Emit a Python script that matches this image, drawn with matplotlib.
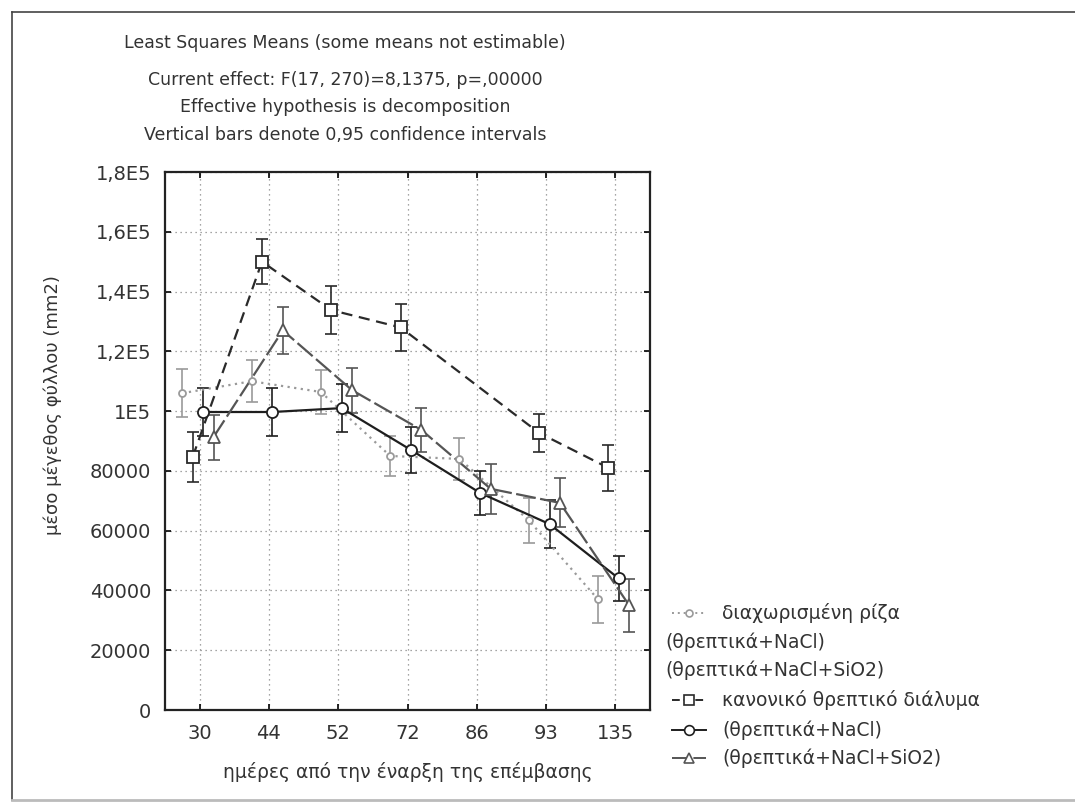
import numpy as np
import matplotlib
matplotlib.use('Agg')
import matplotlib.pyplot as plt
from matplotlib.lines import Line2D

plt.rcParams['font.family'] = ['DejaVu Sans']

# days since start of treatment (categorical x axis)
days = ['30', '44', '52', '72', '86', '93', '135']

# mean leaf size (mm2) and 0.95 CI half-widths
split_root = [106000, 110000, 106400, 85000, 84000, 63500, 37000]
split_root_err = [8000, 7000, 7500, 6700, 7000, 7500, 8000]

normal = [84700, 150000, 133800, 128000, np.nan, 92700, 81000]   # day 86 not estimable
normal_err = [8400, 7500, 8000, 7800, np.nan, 6500, 7800]

nacl = [99700, 99700, 101000, 87000, 72600, 62200, 44000]
nacl_err = [8000, 8000, 8000, 7800, 7200, 8000, 7500]

nacl_si = [91300, 127000, 107000, 93700, 74000, 69300, 35000]
nacl_si_err = [7500, 8000, 7500, 7500, 8400, 8200, 8800]

yticks = [0, 20000, 40000, 60000, 80000, 100000, 120000, 140000, 160000, 180000]
ytick_labels = ['0', '20000', '40000', '60000', '80000', '1E5', '1,2E5', '1,4E5', '1,6E5', '1,8E5']

title_lines = ['Least Squares Means (some means not estimable)',
               'Current effect: F(17, 270)=8,1375, p=,00000',
               'Effective hypothesis is decomposition',
               'Vertical bars denote 0,95 confidence intervals']

W, H = 1075, 808
fig = plt.figure(figsize=(W / 100, H / 100), dpi=100)
ax = fig.add_axes([165 / W, 1 - 710 / H, 485 / W, 538 / H])

pos = np.arange(len(days))
series = [
    # values, errors, offset, marker, linestyle, color, marker size
    (split_root, split_root_err, -0.25, 'o', (0, (1, 2)), '#9a9a9a', 5),
    (normal, normal_err, -0.10, 's', (0, (5, 3)), '#2a2a2a', 8),
    (nacl, nacl_err, 0.05, 'o', '-', '#1e1e1e', 8),
    (nacl_si, nacl_si_err, 0.20, '^', (0, (9, 2)), '#555555', 8),
]

for vals, errs, off, mk, ls, col, ms in series:
    v = np.array(vals, dtype=float)
    e = np.array(errs, dtype=float)
    ok = ~np.isnan(v)
    x = pos[ok] + off
    ax.errorbar(x, v[ok], yerr=e[ok], fmt='none', ecolor=col, elinewidth=1.2,
                capsize=4, capthick=1.2, zorder=3)
    ax.plot(x, v[ok], linestyle=ls, color=col, linewidth=1.6, zorder=4)
    ax.plot(x, v[ok], linestyle='none', marker=mk, ms=ms, mfc='white',
            mec=col, mew=1.3, zorder=5)

ax.set_xlim(-0.5, len(days) - 0.5)
ax.set_ylim(0, 180000)
ax.set_xticks(pos)
ax.set_xticklabels(days)
ax.set_yticks(yticks)
ax.set_yticklabels(ytick_labels)
ax.tick_params(direction='in', length=4, width=1.2, top=True, right=True,
               labelsize=14, labelcolor='#333333', pad=10)
ax.grid(True, linestyle=(0, (1, 3)), color='#888888', linewidth=0.9)
for sp in ax.spines.values():
    sp.set_linewidth(1.6)
    sp.set_color('#222222')

ax.set_xlabel('ημέρες από την έναρξη της επέμβασης', fontsize=13.5,
              color='#333333', labelpad=14)
fig.text(53 / W, 1 - 405 / H, 'μέσο μέγεθος φύλλου (mm2)', rotation=90,
         ha='center', va='center', fontsize=13, color='#333333')

for y, line in zip([43, 80, 107, 135], title_lines):
    fig.text(345 / W, 1 - y / H, line, ha='center', va='center',
             fontsize=12.5, color='#333333')

# legend drawn by hand to keep the scanned layout
def handle(y, mk, ls, col, ms):
    fig.add_artist(Line2D([672 / W, 706 / W], [1 - y / H] * 2, transform=fig.transFigure,
                          linestyle=ls, color=col, linewidth=1.4))
    fig.add_artist(Line2D([689 / W], [1 - y / H], transform=fig.transFigure,
                          marker=mk, ms=ms, mfc='white', mec=col, mew=1.2))

leg_kw = dict(ha='left', va='center', fontsize=13.5, color='#333333')
handle(613, 'o', (0, (1, 2)), '#9a9a9a', 5)
fig.text(722 / W, 1 - 613 / H, 'διαχωρισμένη ρίζα', **leg_kw)
fig.text(665 / W, 1 - 642 / H, '(θρεπτικά+NaCl)', **leg_kw)
fig.text(665 / W, 1 - 670 / H, '(θρεπτικά+NaCl+SiO2)', **leg_kw)
handle(700, 's', (0, (4, 2)), '#2a2a2a', 7)
fig.text(722 / W, 1 - 700 / H, 'κανονικό θρεπτικό διάλυμα', **leg_kw)
handle(730, 'o', '-', '#1e1e1e', 7)
fig.text(722 / W, 1 - 730 / H, '(θρεπτικά+NaCl)', **leg_kw)
handle(758, '^', (0, (9, 2)), '#555555', 7)
fig.text(722 / W, 1 - 758 / H, '(θρεπτικά+NaCl+SiO2)', **leg_kw)

# frame of the scanned page
fig.add_artist(Line2D([12 / W, 1], [1 - 12 / H] * 2, transform=fig.transFigure,
                      color='#444444', linewidth=1.2))
fig.add_artist(Line2D([12 / W] * 2, [1 - 12 / H, 1 - 800 / H], transform=fig.transFigure,
                      color='#444444', linewidth=1.2))
fig.add_artist(Line2D([12 / W, 1], [1 - 800 / H] * 2, transform=fig.transFigure,
                      color='#bbbbbb', linewidth=2))

fig.savefig('out.png', dpi=100)
